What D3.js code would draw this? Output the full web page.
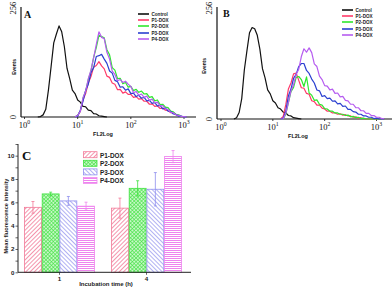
<!DOCTYPE html>
<html><head><meta charset="utf-8">
<script src="https://cdn.jsdelivr.net/npm/d3@7"></script>
<style>body{margin:0;background:#fff}svg{display:block}</style>
</head><body>
<svg id="c" width="392" height="288"></svg>
<script>
// ---------- DATA ----------
const histNames = ["Control", "P1-DOX", "P2-DOX", "P3-DOX", "P4-DOX"];
const histColors = ["#111111", "#ff3a6a", "#2ee82e", "#2a3fd0", "#b65cf0"];
const binStep = 0.05;            // log10 bin width
const xTickExps = [0, 1, 2, 3];
const yTickLabels = ["0", "256"];

// Panel A (log10 start of each series, counts per bin)
const ctrlStartA = 0.25;
const controlA = [0,1,5,18,63,118,174,195,214,200,165,114,90,63,55,40,35,25,24,16,15,8,7,3,2,1,0];
const sampleStartA = 0.95;
const p1A = [0,4,13,40,55,80,95,117,121,130,120,113,96,93,80,77,64,65,56,59,53,53,46,48,42,43,37,37,30,31,25,26,20,21,16,15,10,10,5,4,1,1,0];
const p2A = [0,4,14,44,61,88,108,140,163,192,189,186,158,146,116,110,90,91,78,81,70,72,62,65,58,61,54,55,46,48,38,40,29,30,23,22,14,12,6,5,1,1,0];
const p3A = [0,2,16,37,62,77,104,116,142,144,147,136,126,108,103,86,83,70,71,63,66,55,56,48,51,44,46,38,39,32,34,26,27,19,21,14,13,7,6,2,2,0,0];
const p4A = [0,4,13,45,61,90,110,139,170,200,187,184,152,136,108,100,85,88,81,84,77,72,57,60,51,54,46,49,39,42,33,35,26,27,19,18,11,10,5,4,1,1,0];

// Panel B
const ctrlStartB = 0.25;
const controlB = [0,3,15,47,113,157,199,211,208,193,161,116,95,67,58,42,37,26,23,16,14,8,7,3,2,1,0];
const sampleStartB = 1.15;
const p1B = [0,6,33,69,83,104,106,89,72,71,59,57,42,40,32,32,25,23,18,18,14,14,11,12,9,10,7,7,4,5,2,3,1,0,0,0,0,0,0,0,0];
const p2B = [0,0,11,38,63,73,96,98,91,75,97,60,55,43,44,34,32,24,23,18,18,14,14,11,11,8,9,5,6,3,4,1,2,0,0,0,0,0,0,0,0];
const p3B = [0,2,18,53,69,94,103,121,128,128,112,105,92,83,67,65,52,54,47,48,41,42,35,36,29,30,22,22,17,16,11,11,7,7,4,4,1,2,0,0,0];
const p4B = [0,0,13,38,65,79,103,115,144,162,154,164,153,127,121,99,91,77,76,67,69,59,60,51,52,43,42,34,34,26,26,19,19,13,13,8,8,4,4,1,1];

// Panel C
const groups = ["1", "4"];
const barSeries = ["P1-DOX", "P2-DOX", "P3-DOX", "P4-DOX"];
const means1h = [5.57, 6.72, 6.12, 5.67];
const means4h = [5.50, 7.20, 7.12, 9.92];
const err1h = [0.5, 0.15, 0.38, 0.34];
const err4h = [0.86, 0.65, 1.43, 0.52];
const barColors = ["#f27a98", "#3fe23f", "#8f8fee", "#ee84ee"];
const yTicksC = [0, 2, 4, 6, 8, 10];

// ---------- DRAW ----------
const svg = d3.select("#c");
const defs = svg.append("defs");

function panel(opt) {
  const g = svg.append("g");
  const x = d3.scaleLog().domain([1, 1000]).range([opt.x0, opt.x3]);
  const y = d3.scaleLinear().domain([0, 256]).range([opt.yBot, opt.yTop]);
  g.append("line").attr("x1", opt.axX).attr("x2", opt.axX).attr("y1", opt.yTop - 1).attr("y2", opt.yBot)
    .attr("stroke", "#111").attr("stroke-width", 1.2);
  g.append("line").attr("x1", opt.axX).attr("x2", opt.xEnd).attr("y1", opt.yBot).attr("y2", opt.yBot)
    .attr("stroke", "#111").attr("stroke-width", 1.2);
  xTickExps.forEach(e => {
    const xv = x(Math.pow(10, e));
    g.append("line").attr("x1", xv).attr("x2", xv).attr("y1", opt.yBot).attr("y2", opt.yBot + 2)
      .attr("stroke", "#111").attr("stroke-width", 0.8);
    const t = g.append("text").attr("x", xv).attr("y", opt.yBot + 10.5).attr("text-anchor", "middle")
      .attr("font-family", "Liberation Serif, DejaVu Serif, serif").attr("font-size", 8.5).attr("fill", "#111");
    t.append("tspan").text("10");
    t.append("tspan").attr("dy", -3.5).attr("font-size", 5.8).text(String(e));
  });
  [[0, yTickLabels[0]], [256, yTickLabels[1]]].forEach(([v, lab]) => {
    g.append("text").attr("transform", `translate(${opt.axX - 5.5},${y(v)}) rotate(-90)`)
      .attr("text-anchor", "middle").attr("font-family", "Liberation Serif, DejaVu Serif, serif")
      .attr("font-size", 8.5).attr("fill", "#111").text(lab);
  });
  g.append("text").attr("transform", `translate(${opt.evX},${opt.evY}) rotate(-90)`)
    .attr("text-anchor", "middle").attr("font-family", "Liberation Sans, Arial, sans-serif")
    .attr("font-weight", "bold").attr("font-size", 4.8).attr("fill", "#111").text("Events");
  g.append("text").attr("x", opt.flX).attr("y", opt.yBot + 19).attr("text-anchor", "middle")
    .attr("font-family", "Liberation Sans, Arial, sans-serif").attr("font-weight", "bold")
    .attr("font-size", 5.5).attr("fill", "#111").text("FL2Log");
  g.append("text").attr("x", opt.lx).attr("y", opt.ly).attr("font-family", "Liberation Serif, DejaVu Serif, serif")
    .attr("font-weight", "bold").attr("font-size", 10).attr("fill", "#111").text(opt.letter);

  const line = d3.line().x(d => x(d[0])).y(d => y(d[1]));
  opt.series.forEach((s, k) => {
    const pts = s.values.map((v, i) => [Math.pow(10, s.start + i * binStep), v]);
    g.append("path").datum(pts).attr("d", line).attr("fill", "none")
      .attr("stroke", histColors[k]).attr("stroke-width", 1.2).attr("stroke-linejoin", "round");
  });
  histNames.forEach((n, k) => {
    const yy = opt.legY[k];
    g.append("line").attr("x1", opt.legX).attr("x2", opt.legX + 11).attr("y1", yy).attr("y2", yy)
      .attr("stroke", histColors[k]).attr("stroke-width", 1.6);
    g.append("text").attr("x", opt.legX + 13.5).attr("y", yy + 1.7)
      .attr("font-family", "Liberation Sans, Arial, sans-serif").attr("font-weight", "bold")
      .attr("font-size", 4.6).attr("fill", "#222").text(n);
  });
}

panel({
  x0: 24.5, x3: 184, axX: 21, xEnd: 196, yTop: 8, yBot: 117, evX: 16, evY: 67, flX: 103,
  lx: 24, ly: 18, letter: "A", legX: 138, legY: [14, 20, 26, 33, 39],
  series: [
    { start: ctrlStartA, values: controlA },
    { start: sampleStartA, values: p1A },
    { start: sampleStartA, values: p2A },
    { start: sampleStartA, values: p3A },
    { start: sampleStartA, values: p4A }
  ]
});
panel({
  x0: 221, x3: 376.5, axX: 217, xEnd: 392, yTop: 8, yBot: 119, evX: 206, evY: 66, flX: 298,
  lx: 223, ly: 17, letter: "B", legX: 342, legY: [10, 16, 22, 29, 35],
  series: [
    { start: ctrlStartB, values: controlB },
    { start: sampleStartB, values: p1B },
    { start: sampleStartB, values: p2B },
    { start: sampleStartB, values: p3B },
    { start: sampleStartB, values: p4B }
  ]
});

// ---------- Panel C ----------
function pat(id, color, kind) {
  const p = defs.append("pattern").attr("id", id).attr("patternUnits", "userSpaceOnUse");
  if (kind === "fwd") {
    p.attr("width", 3).attr("height", 3).attr("patternTransform", "rotate(45)");
    p.append("rect").attr("width", 3).attr("height", 3).attr("fill", "#fff");
    p.append("line").attr("x1", 0).attr("x2", 0).attr("y1", 0).attr("y2", 3).attr("stroke", color).attr("stroke-width", 1.6);
  } else if (kind === "back") {
    p.attr("width", 3).attr("height", 3).attr("patternTransform", "rotate(-45)");
    p.append("rect").attr("width", 3).attr("height", 3).attr("fill", "#fff");
    p.append("line").attr("x1", 0).attr("x2", 0).attr("y1", 0).attr("y2", 3).attr("stroke", color).attr("stroke-width", 1.4);
  } else if (kind === "cross") {
    p.attr("width", 2.6).attr("height", 2.6).attr("patternTransform", "rotate(45)");
    p.append("rect").attr("width", 2.6).attr("height", 2.6).attr("fill", "#c8f7c8");
    p.append("line").attr("x1", 0).attr("x2", 0).attr("y1", 0).attr("y2", 2.6).attr("stroke", color).attr("stroke-width", 1.2);
    p.append("line").attr("x1", 0).attr("x2", 2.6).attr("y1", 0).attr("y2", 0).attr("stroke", color).attr("stroke-width", 1.2);
  } else {
    p.attr("width", 2).attr("height", 2);
    p.append("rect").attr("width", 2).attr("height", 2).attr("fill", "#fff");
    p.append("line").attr("x1", 0).attr("x2", 2).attr("y1", 0.5).attr("y2", 0.5).attr("stroke", color).attr("stroke-width", 1);
  }
}
const kinds = ["fwd", "cross", "back", "horiz"];
barSeries.forEach((s, i) => pat("pat" + i, barColors[i], kinds[i]));

const gc = svg.append("g");
const yC = d3.scaleLinear().domain([0, 11]).range([272.3, 144]);
const x0 = d3.scaleBand().domain(groups).range([16, 190]).paddingInner(0.186).paddingOuter(0.093);
const x1 = d3.scaleBand().domain(barSeries).range([0, x0.bandwidth()]);
const barData = [];
groups.forEach((g, gi) => {
  const m = gi === 0 ? means1h : means4h, e = gi === 0 ? err1h : err4h;
  barSeries.forEach((s, si) => barData.push({ g, s, si, v: m[si], e: e[si] }));
});
gc.selectAll("rect.bar").data(barData).join("rect")
  .attr("x", d => x0(d.g) + x1(d.s) + 0.4).attr("width", x1.bandwidth() - 0.8)
  .attr("y", d => yC(d.v)).attr("height", d => yC(0) - yC(d.v))
  .attr("fill", d => `url(#pat${d.si})`).attr("stroke", d => barColors[d.si]).attr("stroke-width", 0.8);
barData.forEach(d => {
  const cx = x0(d.g) + x1(d.s) + x1.bandwidth() / 2;
  gc.append("line").attr("x1", cx).attr("x2", cx).attr("y1", yC(d.v + d.e)).attr("y2", yC(d.v - d.e))
    .attr("stroke", barColors[d.si]).attr("stroke-width", 0.8);
  [d.v + d.e, d.v - d.e].forEach(v => gc.append("line").attr("x1", cx - 1.5).attr("x2", cx + 1.5)
    .attr("y1", yC(v)).attr("y2", yC(v)).attr("stroke", barColors[d.si]).attr("stroke-width", 0.8));
});
const yAx = gc.append("g").attr("transform", "translate(18,0)")
  .call(d3.axisLeft(yC).tickValues(d3.range(0, 12)).tickSize(2.5).tickFormat(d => yTicksC.includes(d) ? d : ""));
yAx.select(".domain").remove();
gc.append("line").attr("x1", 18).attr("x2", 18).attr("y1", 144).attr("y2", 272.3).attr("stroke", "#222").attr("stroke-width", 1);
gc.append("line").attr("x1", 18).attr("x2", 191).attr("y1", 272.3).attr("y2", 272.3).attr("stroke", "#222").attr("stroke-width", 1);
const xAx = gc.append("g").attr("transform", "translate(0,272.3)")
  .call(d3.axisBottom(x0).tickSize(2.5).tickPadding(1.5));
xAx.select(".domain").remove();
[yAx, xAx].forEach(a => {
  a.selectAll("text").attr("font-family", "Liberation Sans, Arial, sans-serif").attr("font-size", 6.2)
    .attr("font-weight", "bold").attr("fill", "#222");
  a.selectAll("line").attr("stroke", "#222").attr("stroke-width", 0.7);
});
yAx.selectAll("text").attr("x", -3.5);
gc.append("text").attr("transform", "translate(7.5,216) rotate(-90)").attr("text-anchor", "middle")
  .attr("font-family", "Liberation Sans, Arial, sans-serif").attr("font-weight", "bold")
  .attr("font-size", 5.6).attr("fill", "#222").text("Mean fluorescence intensity");
gc.append("text").attr("x", 106).attr("y", 286).attr("text-anchor", "middle")
  .attr("font-family", "Liberation Sans, Arial, sans-serif").attr("font-weight", "bold")
  .attr("font-size", 6).attr("fill", "#222").text("Incubation time (h)");
gc.append("text").attr("x", 22).attr("y", 160).attr("font-family", "Liberation Serif, DejaVu Serif, serif")
  .attr("font-weight", "bold").attr("font-size", 13).attr("fill", "#111").text("C");
barSeries.forEach((s, i) => {
  const yy = 151.7 + i * 8.6;
  gc.append("rect").attr("x", 83.5).attr("y", yy).attr("width", 13.5).attr("height", 6)
    .attr("fill", `url(#pat${i})`).attr("stroke", barColors[i]).attr("stroke-width", 0.8);
  gc.append("text").attr("x", 100).attr("y", yy + 5.8).attr("font-family", "Liberation Sans, Arial, sans-serif")
    .attr("font-weight", "bold").attr("font-size", 6.4).attr("fill", "#222").text(s);
});
</script>
</body></html>
